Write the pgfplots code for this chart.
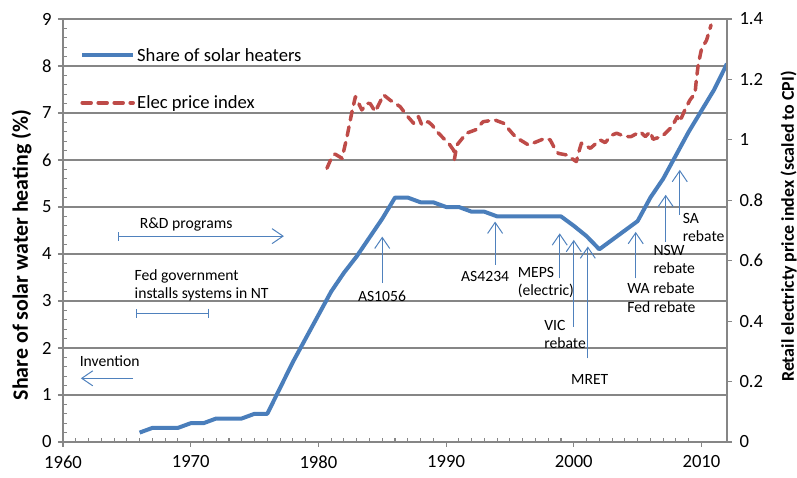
\documentclass[border=0pt]{standalone}
\usepackage{fontspec}
\setmainfont{Carlito}
\usepackage{pgfplots}
\pgfplotsset{compat=1.18}
\usetikzlibrary{arrows.meta}
\definecolor{sblue}{HTML}{4A7EBB}
\definecolor{sred}{HTML}{BE4B48}
\definecolor{agray}{HTML}{868686}
\definecolor{annblue}{HTML}{4F81BD}
\tikzset{
  annot/.style={annblue, line width=1bp, -{Straight Barb[length=11bp,width=15bp]}},
  atext/.style={font=\fontsize{15.7}{18.4}\selectfont, align=left, inner sep=0pt},
}
\begin{document}
\begin{tikzpicture}
\pgfplotsset{
  common/.style={
    scale only axis, width=664bp, height=423bp,
    xmin=1960, xmax=2012,
    axis line style={agray, line width=1.3bp, -},
    tick style={agray, line width=1.1bp},
    tick align=outside,
    major tick length=5bp,
    minor tick length=4bp,
    /pgf/number format/assume math mode=true,
    /pgf/number format/1000 sep={},
    ticklabel style={font=\fontsize{18.7}{20}\selectfont},
  },
}
\begin{axis}[common,
  ymin=0, ymax=9,
  axis x line*=bottom, axis y line*=left,
  xtick={1960,1970,...,2010},
  minor x tick num=9,
  ytick={0,1,...,9},
  minor y tick num=4,
  every minor x tick/.append style={yshift=4bp},
  every minor y tick/.append style={xshift=4bp},
  xticklabel style={yshift=-5bp},
  yticklabel style={xshift=-3bp},
  ymajorgrids, grid style={agray, line width=1.1bp},
  ylabel={Share of solar water heating (\%)},
  ylabel style={font=\bfseries\fontsize{22}{24}\selectfont, at={(axis description cs:-0.0622,0.442)}, anchor=center},
  legend cell align=left,
  legend style={draw=none, fill=none, at={(0,1)}, anchor=north west, xshift=14bp, yshift=-25bp, row sep=29bp, font=\fontsize{18.7}{20}\selectfont},
  legend image code/.code={\draw[#1] (0bp,0bp) -- (51bp,0bp);},
]
\addplot[sblue, line width=4bp, line join=round] table {
1966 0.2
1967 0.3
1968 0.3
1969 0.3
1970 0.4
1971 0.4
1972 0.5
1973 0.5
1974 0.5
1975 0.6
1976 0.6
1977 1.15
1978 1.7
1979 2.2
1980 2.7
1981 3.2
1982 3.6
1983 3.95
1984 4.35
1985 4.75
1986 5.2
1987 5.2
1988 5.1
1989 5.1
1990 5.0
1991 5.0
1992 4.9
1993 4.9
1994 4.8
1995 4.8
1996 4.8
1997 4.8
1998 4.8
1999 4.8
2000 4.6
2001 4.38
2002 4.1
2003 4.3
2004 4.5
2005 4.7
2006 5.2
2007 5.6
2008 6.1
2009 6.6
2010 7.05
2011 7.5
2012 8.05
};
\addlegendentry{Share of solar heaters}
\addlegendimage{sred, line width=3.5bp, dash pattern=on 9bp off 7bp, line cap=round}
\addlegendentry{Elec price index}

% annotations
\draw[annblue, line width=1bp, {Bar[width=9bp]}-{Straight Barb[length=11bp,width=15bp]}] (axis cs:1964.3,4.38) -- (axis cs:1977.3,4.38);
\node[atext, anchor=west] at (axis cs:1966.0,4.62) {R\&D programs};
\node[atext, anchor=west] at (axis cs:1965.6,3.34) {Fed government\\installs systems in NT};
\draw[annblue, line width=1bp, {Bar[width=9bp]}-{Bar[width=9bp]}] (axis cs:1965.7,2.74) -- (axis cs:1971.4,2.74);
\node[atext, anchor=west] at (axis cs:1961.3,1.71) {Invention};
\draw[annot] (axis cs:1965.5,1.355) -- (axis cs:1961.4,1.355);
\draw[annot] (axis cs:1985,3.38) -- (axis cs:1985,4.37);
\node[atext] at (axis cs:1984.98,3.1) {AS1056};
\draw[annot] (axis cs:1993.84,3.77) -- (axis cs:1993.84,4.69);
\node[atext] at (axis cs:1993.06,3.52) {AS4234};
\draw[annot] (axis cs:1998.9,3.48) -- (axis cs:1998.9,4.44);
\node[atext, anchor=west] at (axis cs:1995.6,3.39) {MEPS\\(electric)};
\draw[annot] (axis cs:2000.0,2.45) -- (axis cs:2000.0,4.3);
\node[atext, anchor=west] at (axis cs:1997.68,2.29) {VIC\\rebate};
\draw[annot] (axis cs:2001.1,1.78) -- (axis cs:2001.1,4.16);
\node[atext] at (axis cs:2001.25,1.34) {MRET};
\draw[annot] (axis cs:2004.85,3.48) -- (axis cs:2004.85,4.47);
\node[atext, anchor=west] at (axis cs:2004.19,3.07) {WA rebate\\Fed rebate};
\draw[annot] (axis cs:2007.2,4.26) -- (axis cs:2007.2,5.26);
\node[atext, anchor=west] at (axis cs:2006.23,3.89) {NSW\\rebate};
\draw[annot] (axis cs:2008.3,4.83) -- (axis cs:2008.3,5.79);
\node[atext, anchor=west] at (axis cs:2008.53,4.56) {SA\\rebate};
\end{axis}

\begin{axis}[common,
  ymin=0, ymax=1.4,
  axis y line*=right, axis x line=none,
  ytick={0,0.2,0.4,0.6,0.8,1,1.2,1.4},
  yticklabel style={xshift=4bp},
  ylabel={Retail electricty price index (scaled to CPI)},
  ylabel style={font=\bfseries\fontsize{18}{20}\selectfont, at={(axis description cs:1.0929,0.5095)}, anchor=center},
]
\addplot[sred, line width=3.5bp, dash pattern=on 9bp off 7bp, line cap=round, line join=round] table {
1980.67 0.906
1981.06 0.944
1981.3 0.953
1981.85 0.939
1982.24 1.01
1982.63 1.093
1982.9 1.143
1983.4 1.099
1983.8 1.121
1984.06 1.12
1984.45 1.093
1985.1 1.149
1985.6 1.132
1986.4 1.11
1986.9 1.082
1987.45 1.055
1987.84 1.077
1988.1 1.049
1988.6 1.06
1988.9 1.049
1989.3 1.027
1989.8 1.005
1990.2 0.989
1990.6 0.965
1990.65 0.935
1990.85 0.983
1991.6 1.022
1992.3 1.033
1992.9 1.06
1993.8 1.066
1994.5 1.055
1995.3 1.016
1995.8 1.0
1996.45 0.983
1997.1 0.994
1997.75 1.005
1998.15 1.0
1998.5 0.972
1998.8 0.955
1999.45 0.95
2000.2 0.928
2000.4 0.961
2000.6 0.989
2001.3 0.972
2002.06 1.0
2002.45 0.991
2003.0 1.016
2003.36 1.022
2004.0 1.011
2004.5 1.011
2005.2 1.027
2005.6 1.011
2006.0 1.027
2006.2 1.002
2006.9 1.011
2007.3 1.027
2007.7 1.044
2008.1 1.077
2008.3 1.06
2008.7 1.099
2009.1 1.132
2009.5 1.154
2009.6 1.2
2009.75 1.25
2010.0 1.30
2010.4 1.33
2010.75 1.38
};
\end{axis}
\pgfresetboundingbox
\path (-63bp,-36bp) rectangle (734bp,442bp);
\end{tikzpicture}
\end{document}
